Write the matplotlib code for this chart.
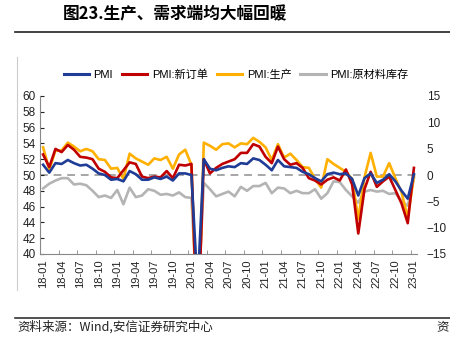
import matplotlib
matplotlib.use("Agg")
import matplotlib.pyplot as plt
from matplotlib.lines import Line2D
import numpy as np

plt.rcParams['font.family'] = ['Noto Sans CJK SC', 'DejaVu Sans']

pmi = [51.3, 50.3, 51.5, 51.4, 51.9, 51.5, 51.2, 51.3, 50.8, 50.2, 50.0, 49.4,
       49.5, 49.2, 50.5, 50.1, 49.4, 49.4, 49.7, 49.5, 49.8, 49.3, 50.2, 50.2,
       50.0, 35.7, 52.0, 50.8, 50.6, 50.9, 51.1, 51.0, 51.5, 51.4, 52.1, 51.9,
       51.3, 50.6, 51.9, 51.1, 51.0, 50.9, 50.4, 50.1, 49.6, 49.2, 50.1, 50.3,
       50.1, 50.2, 49.5, 47.4, 49.6, 50.2, 49.0, 49.4, 50.1, 49.2, 48.0, 47.0,
       50.1]
new_orders = [52.6, 51.0, 53.3, 52.9, 53.8, 53.2, 52.3, 52.2, 52.0, 50.8, 50.4, 49.7,
              49.6, 50.6, 51.6, 51.4, 49.8, 49.6, 49.8, 49.7, 50.5, 49.6, 51.3, 51.2,
              51.4, 29.3, 52.0, 50.2, 50.9, 51.4, 51.7, 52.0, 52.8, 52.8, 53.9, 53.6,
              52.3, 51.5, 53.6, 52.0, 51.3, 51.5, 50.9, 49.6, 49.3, 48.8, 49.4, 49.7,
              49.3, 50.7, 48.8, 42.6, 48.2, 50.4, 48.5, 49.2, 49.8, 48.1, 46.4, 43.9,
              50.9]
production = [53.5, 50.7, 53.1, 53.1, 54.1, 53.6, 53.0, 53.3, 53.0, 52.0, 51.9, 50.8,
              50.9, 49.5, 52.7, 52.1, 51.7, 51.3, 52.1, 51.9, 52.3, 50.8, 52.6, 53.2,
              51.3, 27.8, 54.1, 53.7, 53.2, 53.9, 54.0, 53.5, 54.0, 53.9, 54.7, 54.2,
              53.5, 51.9, 53.9, 52.2, 52.7, 51.9, 51.0, 50.9, 49.5, 48.4, 52.0, 51.4,
              50.9, 50.4, 49.5, 44.4, 49.7, 52.8, 49.8, 49.8, 51.5, 49.6, 47.8, 44.6,
              49.8]
raw_inventory = [48.3, 48.9, 49.3, 49.6, 49.6, 48.8, 48.9, 48.7, 48.0, 47.2, 47.4, 47.1,
                 48.1, 46.3, 48.4, 47.2, 47.4, 48.2, 48.0, 47.5, 47.6, 47.4, 47.8, 47.2,
                 47.1, 32.9, 49.0, 48.2, 47.3, 47.6, 47.9, 47.3, 48.5, 48.0, 48.6, 48.6,
                 49.0, 47.7, 48.4, 48.3, 47.7, 48.0, 47.7, 47.7, 48.2, 47.0, 47.7, 49.2,
                 49.1, 48.1, 47.3, 46.5, 47.9, 48.1, 47.9, 48.0, 47.6, 47.7, 46.7, 46.1,
                 49.6]
months = [f"{y:02d}-{m:02d}" for y in range(18, 24) for m in range(1, 13)][:61]
tick_labels = months[::3]

fig = plt.figure(figsize=(4.5, 3.41), dpi=100)
ax = fig.add_axes([40/450, 1-254/341, 377/450, 158/341])
x = np.arange(len(pmi))

c_blue = '#1F3C96'
c_red = '#C00000'
c_orange = '#FFB000'
c_grey = '#B4B4B4'
lw = 1.9
num_font = ['Liberation Sans', 'DejaVu Sans']
ax.axhline(50, color='#A6A6A6', lw=1.4, ls=(0, (4, 3)), zorder=1)
ax.plot(x, raw_inventory, color=c_grey, lw=lw, zorder=2)
ax.plot(x, production, color=c_orange, lw=lw, zorder=3)
ax.plot(x, new_orders, color=c_red, lw=lw, zorder=4)
ax.plot(x, pmi, color=c_blue, lw=lw, zorder=5)

ax.set_xlim(-0.5, 60.5)
ax.set_ylim(40, 60)
ax.set_yticks(range(40, 61, 2))
ax.tick_params(axis='y', labelsize=8.5, direction='in', length=3, pad=3, colors='#222222')
ax.set_xticks(x[::3])
ax.set_xticklabels(tick_labels, rotation=90, fontsize=8, color='#222222', family=num_font)
ax.set_xticks(x[::3] - 0.5, minor=True)
ax.tick_params(axis='x', which='major', length=0, pad=4)
ax.tick_params(axis='x', which='minor', length=3, direction='in', color='#888888')
for s in ['top', 'right']:
    ax.spines[s].set_visible(False)
ax.spines['left'].set_color('#888888')
ax.spines['bottom'].set_color('#888888')
for lab in ax.get_yticklabels():
    lab.set_family(num_font)

ax2 = ax.twinx()
ax2.set_ylim(-15, 15)
ax2.set_yticks(range(-15, 16, 5))
ax2.tick_params(axis='y', length=0, labelsize=8.5, pad=7, colors='#222222')
for s in ax2.spines.values():
    s.set_visible(False)
for lab in ax2.get_yticklabels():
    lab.set_family(num_font)

handles = [Line2D([], [], color=c, lw=2.2) for c in (c_blue, c_red, c_orange, c_grey)]
labels = ['PMI', 'PMI:新订单', 'PMI:生产', 'PMI:原材料库存']
fig.legend(handles, labels, loc='center', bbox_to_anchor=(236/450, 1-75/341), ncol=4,
           frameon=False, handlelength=2.3, columnspacing=0.8, handletextpad=0.4,
           prop={'family': ['Liberation Sans', 'Noto Sans CJK SC'], 'size': 8})

fig.text(63/450, 1-14/341, '图23.生产、需求端均大幅回暖', fontsize=12, fontweight='bold',
         va='center', ha='left')
fig.add_artist(Line2D([15/450, 1], [1-32/341, 1-32/341], color='#222222', lw=1.2))
fig.add_artist(Line2D([17/450, 17/450], [1-57/341, 1-290/341], color='#CCCCCC', lw=0.8))
fig.add_artist(Line2D([15/450, 1], [1-318/341, 1-318/341], color='#333333', lw=1.2))
fig.text(17/450, 1-327/341, '资料来源：Wind,安信证券研究中心', fontsize=9, va='center', ha='left',
         color='#222222')
fig.text(436/450, 1-327/341, '资', fontsize=9, va='center', ha='left', color='#222222')

fig.savefig('out.png', dpi=100)
